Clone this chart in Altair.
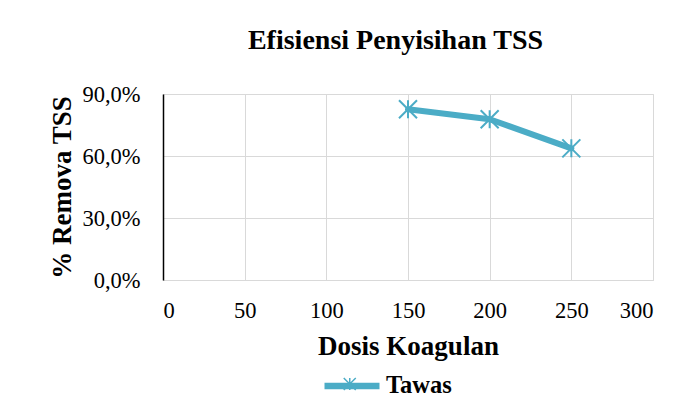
import altair as alt
import pandas as pd

dosis = [150, 200, 250]
removal = [0.826, 0.778, 0.637]
series = ["Tawas", "Tawas", "Tawas"]

df = pd.DataFrame({"Dosis": dosis, "Removal": removal, "Seri": series, "Seri2": series})

FONT = "Liberation Serif"
COLOR = "#4BACC6"
STAR = "M-1,-1L1,1M-1,1L1,-1M0,-1L0,1"
LEGLINE = "M-2,0H2"

x = alt.X("Dosis:Q", scale=alt.Scale(domain=[0, 300], nice=False),
          axis=alt.Axis(values=[0, 50, 100, 150, 200, 250, 300], title="Dosis Koagulan",
                        labelFont=FONT, labelFontSize=22.5, labelColor="black", labelPadding=19,
                        titleFont=FONT, titleFontSize=27, titleFontWeight="bold", titleColor="black",
                        titlePadding=12, ticks=False, domainColor="#d9d9d9",
                        gridColor="#d9d9d9"))
y = alt.Y("Removal:Q", scale=alt.Scale(domain=[0, 0.9], nice=False),
          axis=alt.Axis(values=[0, 0.3, 0.6, 0.9], title="% Remova TSS",
                        labelExpr="replace(format(datum.value, '.1%'), '.', ',')",
                        labelFont=FONT, labelFontSize=22.5, labelColor="black", labelPadding=23,
                        titleFont=FONT, titleFontSize=27, titleFontWeight="bold", titleColor="black",
                        titlePadding=5, ticks=False, domainColor="black", domainWidth=1.5,
                        gridColor="#d9d9d9"))

color = alt.Color("Seri:N", scale=alt.Scale(range=[COLOR]),
                  legend=alt.Legend(title=None, orient="none", legendX=172, legendY=275,
                                    padding=0, symbolType=LEGLINE, symbolSize=756,
                                    symbolStrokeWidth=6.5, symbolStrokeColor=COLOR,
                                    symbolFillColor="transparent",
                                    labelFont=FONT, labelFontSize=24.5, labelFontWeight="bold",
                                    labelColor="black", labelOffset=17))

shape = alt.Shape("Seri2:N", scale=alt.Scale(range=[STAR]),
                  legend=alt.Legend(title=None, orient="none", legendX=179.75, legendY=283,
                                    padding=0, symbolSize=144, symbolStrokeWidth=1.5,
                                    symbolStrokeColor=COLOR, symbolFillColor="transparent",
                                    labelExpr="''", labelFontSize=1))

line = alt.Chart(df).mark_line(strokeWidth=6, strokeCap="round", strokeJoin="round").encode(
    x=x, y=y, color=color)
pts = alt.Chart(df).mark_point(size=324, filled=False, strokeWidth=2,
                               color=COLOR, opacity=1).encode(x=x, y=y, shape=shape)

chart = (line + pts).properties(
    width=490, height=186,
    title=alt.Title("Efisiensi Penyisihan TSS", font=FONT, fontSize=28, fontWeight="bold",
                    color="black", anchor="middle", dx=-12.5, offset=28),
    padding={"left": 155, "top": 86, "right": 28, "bottom": 117},
    autosize=alt.AutoSizeParams(type="none"),
).configure_view(stroke=None).configure(background="white")

chart.save("out.html", embed_options={"renderer": "svg", "actions": False})
